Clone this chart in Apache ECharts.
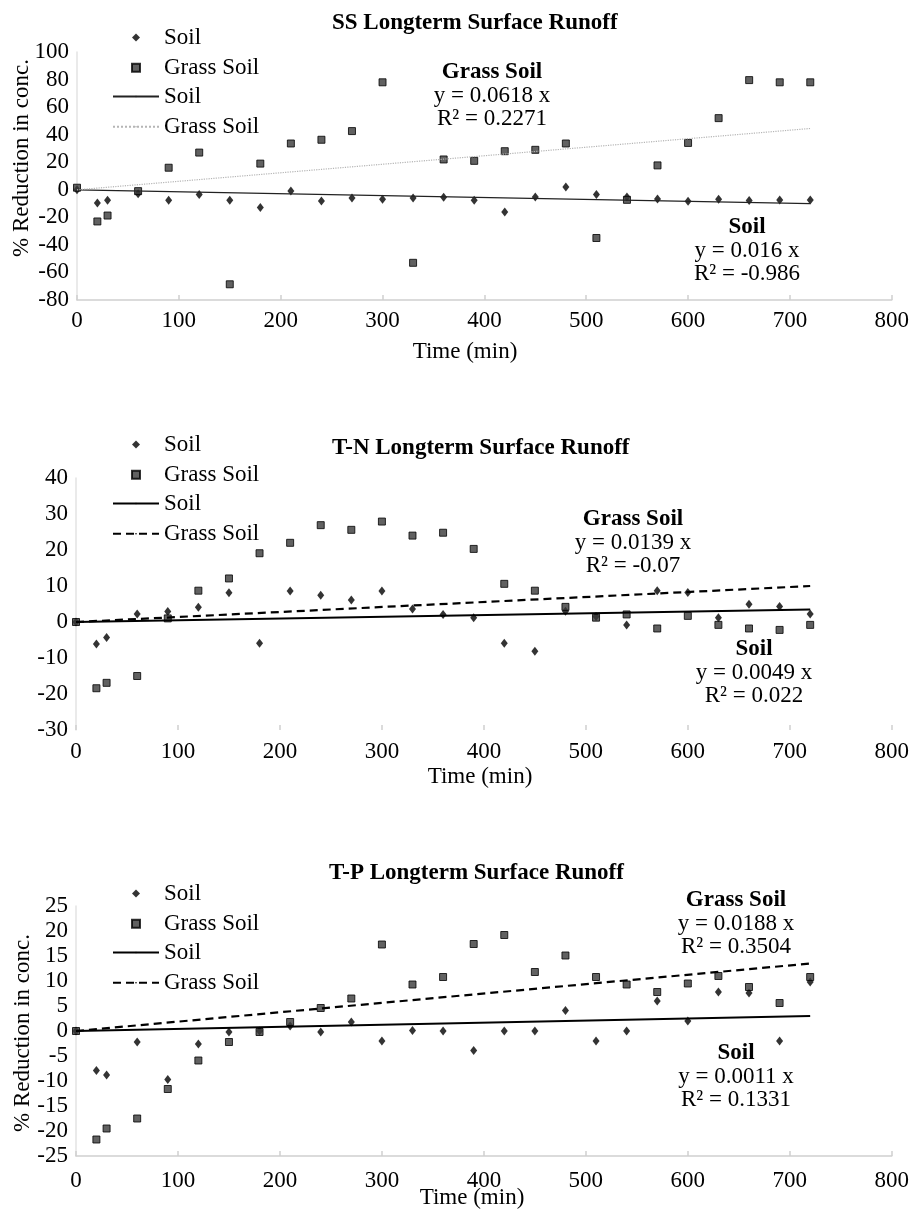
<!DOCTYPE html>
<html>
<head>
<meta charset="utf-8">
<title>Longterm Surface Runoff</title>
<script src="https://cdn.jsdelivr.net/npm/echarts@6/dist/echarts.min.js"></script>
<style>
    html, body { margin: 0; padding: 0; background: #fff; }
    .box { position: absolute; left: 0; width: 912px; }
</style>
</head>
<body>
<div id="ss" class="box" style="top:0;height:400px;"></div>
<div id="tn" class="box" style="top:400px;height:400px;"></div>
<div id="tp" class="box" style="top:800px;height:409px;"></div>
<script>
// sampling times (min)
const times = [0, 20, 30, 60, 90, 120, 150, 180, 210, 240, 270, 300, 330, 360, 390, 420, 450, 480, 510, 540, 570, 600, 630, 660, 690, 720];

// SS
const ssSoil  = [0, -9.6, -7.6, -2.8, -7.6, -3.5, -7.6, -12.9, -0.9, -8.1, -6, -6.9, -6, -5.4, -7.6, -16.1, -5.2, 2, -3.5, -5.2, -6.7, -8.3, -6.9, -7.8, -7.4, -7.4];
const ssGrass = [1.5, -23, -18.7, -1, 16, 27, -68.6, 19, 33.6, 36.3, 42.6, 78, -53, 22, 21, 28, 29, 33.6, -35, -7.3, 17.7, 34, 52, 79.6, 78, 78];
// T-N
const tnSoil  = [0, -6.1, -4.3, 2.2, 2.9, 4.1, 8.1, -5.9, 8.6, 7.4, 6.1, 8.6, 3.6, 2.1, 1.2, -5.9, -8.1, 3, 1.5, -0.8, 8.7, 8.2, 1.2, 4.9, 4.3, 2.2];
const tnGrass = [0, -18.4, -16.9, -15, 1, 8.7, 12.1, 19.1, 22, 26.9, 25.6, 27.9, 24, 24.8, 20.3, 10.6, 8.7, 4.2, 1.2, 2.1, -1.8, 1.7, -0.8, -1.8, -2.2, -0.8];
// T-P
const tpSoil  = [0, -7.9, -8.8, -2.2, -9.7, -2.6, -0.2, 0, 1, -0.2, 1.8, -2, 0.1, 0, -3.9, 0, 0, 4.1, -2, 0, 6, 2, 7.8, 7.6, -2, 9.8];
const tpGrass = [0, -21.7, -19.5, -17.5, -11.6, -5.9, -2.2, -0.2, 1.8, 4.6, 6.5, 17.3, 9.3, 10.8, 17.4, 19.2, 11.8, 15.1, 10.8, 9.3, 7.8, 9.5, 11, 8.8, 5.6, 10.8];

// trend lines, read at x = 0 and x = 720
const trendX       = [0, 720];
const ssSoilTrend  = [0, -10];
const ssGrassTrend = [0, 44.5];
const tnSoilTrend  = [0, 3.5];
const tnGrassTrend = [0, 10];
const tpSoilTrend  = [0, 3];
const tpGrassTrend = [0, 13.5];

// axes: [min, max, interval]
const xRange  = [0, 800, 100];
const ssRange = [-80, 100, 20];
const tnRange = [-30, 40, 10];
const tpRange = [-25, 25, 5];

const FONT = '"Liberation Serif", "Times New Roman", serif';
const FS = 23;

let pairs = (xs, ys) => xs.map((x, i) => [x, ys[i]]);

let txt = (x, y, text, bold, rot) => ({
    type: 'text', x: x, y: y, rotation: rot || 0, silent: true,
    style: {
        text: text, fill: '#000',
        font: (bold ? 'bold ' : '') + FS + 'px ' + FONT,
        align: 'center', verticalAlign: 'middle',
        textAlign: 'center', textVerticalAlign: 'middle'
    }
});

let legendText = pad => ({ fontFamily: FONT, fontSize: FS, lineHeight: 22, color: '#000', padding: pad });

/**
 * build one panel
 */
let build = p => {
    let chart = echarts.init(document.getElementById(p.id));
    chart.setOption({
        animation: false,
        title: {
            text: p.title, left: p.titleLeft, top: p.titleTop,
            textStyle: { fontFamily: FONT, fontSize: FS, fontWeight: 'bold', color: '#000' }
        },
        // markers and trend lines in two legends so the icons keep their own size
        legend: [{
            orient: 'vertical', left: 126, top: p.legendTop,
            itemWidth: 8, itemHeight: 8, itemGap: 7.3,
            textStyle: legendText([0, 0, 0, 19]),
            data: [{ name: 'Soil', icon: 'diamond' }, { name: 'Grass Soil', icon: 'rect' }]
        }, {
            orient: 'vertical', left: 107, top: p.legendTop + 59,
            itemWidth: 46, itemHeight: 2, itemGap: 7.3,
            textStyle: legendText([0, 0, 0, 0]),
            data: ['Soil ', 'Grass Soil ']
        }],
        grid: { left: p.grid[0], top: p.grid[1], width: p.grid[2], height: p.grid[3] },
        xAxis: {
            type: 'value', min: xRange[0], max: xRange[1], interval: xRange[2],
            splitLine: { show: false },
            axisLine: { show: p.xLine, onZero: false, lineStyle: { color: '#cfcfcf', width: 1.5 } },
            axisTick: { show: true, inside: true, length: 5, lineStyle: { color: '#cfcfcf', width: 1.5 } },
            axisLabel: { fontFamily: FONT, fontSize: FS, color: '#000', margin: p.xMargin }
        },
        yAxis: {
            type: 'value', min: p.yRange[0], max: p.yRange[1], interval: p.yRange[2],
            splitLine: { show: false },
            axisLine: { show: true, lineStyle: { color: '#e3e3e3', width: 1.5 } },
            axisTick: { show: false },
            axisLabel: { fontFamily: FONT, fontSize: FS, color: '#000', margin: 8 }
        },
        series: [{
            name: 'Soil', type: 'scatter', symbol: 'diamond', symbolSize: [7, 9],
            itemStyle: { color: '#000' },
            data: pairs(times, p.soil)
        }, {
            name: 'Grass Soil', type: 'scatter', symbol: 'rect', symbolSize: 7,
            itemStyle: { color: '#3a3a3a', borderColor: '#000', borderWidth: 1 },
            data: pairs(times, p.grass)
        }, {
            name: 'Soil ', type: 'line', symbol: 'none',
            itemStyle: { color: p.soilLine.color },
            lineStyle: p.soilLine,
            data: pairs(trendX, p.soilTrend)
        }, {
            name: 'Grass Soil ', type: 'line', symbol: 'none',
            itemStyle: { color: p.grassLine.color },
            lineStyle: p.grassLine,
            data: pairs(trendX, p.grassTrend)
        }],
        graphic: [
            txt(p.yName[0], p.yName[1], '% Reduction in conc.', false, Math.PI / 2),
            txt(p.xName[0], p.xName[1], 'Time (min)', false),
            txt(p.grassEq[0], p.grassEq[1], 'Grass Soil', true),
            txt(p.grassEq[0], p.grassEq[1] + 24, p.grassEq[2], false),
            txt(p.grassEq[0], p.grassEq[1] + 47, p.grassEq[3], false),
            txt(p.soilEq[0], p.soilEq[1], 'Soil', true),
            txt(p.soilEq[0], p.soilEq[1] + 24, p.soilEq[2], false),
            txt(p.soilEq[0], p.soilEq[1] + 47, p.soilEq[3], false)
        ]
    });
};

build({
    id: 'ss', title: 'SS Longterm Surface Runoff', titleLeft: 327, titleTop: 7,
    legendTop: 21, grid: [77, 52, 819, 248], yRange: ssRange, xLine: true, xMargin: 9,
    soil: ssSoil, grass: ssGrass, soilTrend: ssSoilTrend, grassTrend: ssGrassTrend,
    soilLine: { color: '#222', width: 1.2 },
    grassLine: { color: '#b5b5b5', width: 1.2, type: 'dotted' },
    yName: [22, 158], xName: [465, 352],
    grassEq: [492, 72, 'y = 0.0618 x', 'R² = 0.2271'],
    soilEq: [747, 227, 'y = 0.016 x', 'R² = -0.986']
});

build({
    id: 'tn', title: 'T-N Longterm Surface Runoff', titleLeft: 327, titleTop: 32,
    legendTop: 28, grid: [76, 78, 819, 252], yRange: tnRange, xLine: false, xMargin: 10,
    soil: tnSoil, grass: tnGrass, soilTrend: tnSoilTrend, grassTrend: tnGrassTrend,
    soilLine: { color: '#000', width: 2 },
    grassLine: { color: '#000', width: 2.2, type: [8, 5] },
    yName: [23, 602], xName: [480, 377],
    grassEq: [633, 119, 'y = 0.0139 x', 'R² = -0.07'],
    soilEq: [754, 249, 'y = 0.0049 x', 'R² = 0.022']
});

build({
    id: 'tp', title: 'T-P Longterm Surface Runoff', titleLeft: 324, titleTop: 57,
    legendTop: 77, grid: [76, 106, 818, 250], yRange: tpRange, xLine: true, xMargin: 13,
    soil: tpSoil, grass: tpGrass, soilTrend: tpSoilTrend, grassTrend: tpGrassTrend,
    soilLine: { color: '#000', width: 2 },
    grassLine: { color: '#000', width: 2.2, type: [8, 5] },
    yName: [23, 233], xName: [472, 398],
    grassEq: [736, 100, 'y = 0.0188 x', 'R² = 0.3504'],
    soilEq: [736, 253, 'y = 0.0011 x', 'R² = 0.1331']
});
</script>
</body>
</html>
